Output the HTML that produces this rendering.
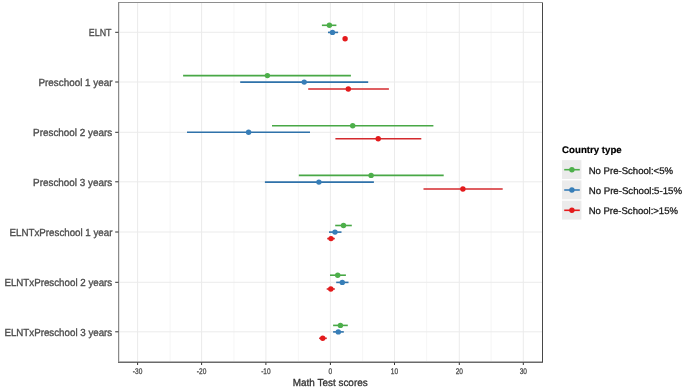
<!DOCTYPE html>
<html><head><meta charset="utf-8"><style>
html,body{margin:0;padding:0;background:#fff;}
body{width:685px;height:390px;overflow:hidden;}
svg{display:block;font-family:"Liberation Sans",sans-serif;text-rendering:geometricPrecision;}
.yl{font-size:10.3px;fill:#4D4D4D;stroke:#4D4D4D;stroke-width:0.35px;}
.xl{font-size:8.2px;fill:#4D4D4D;stroke:#4D4D4D;stroke-width:0.3px;}
.tt{font-size:10.2px;fill:#333333;stroke:#333333;stroke-width:0.3px;}
.lt{font-size:9.6px;font-weight:bold;fill:#000000;stroke:#000000;stroke-width:0.2px;}
.ll{font-size:9.6px;fill:#1a1a1a;stroke:#1a1a1a;stroke-width:0.3px;}
</style></head><body>
<svg width="685" height="390" viewBox="0 0 685 390">
<rect width="685" height="390" fill="#fff"/>
<line x1="170.10" y1="2.5" x2="170.10" y2="362.5" stroke="#F4F4F4" stroke-width="0.8"/>
<line x1="233.90" y1="2.5" x2="233.90" y2="362.5" stroke="#F4F4F4" stroke-width="0.8"/>
<line x1="298.40" y1="2.5" x2="298.40" y2="362.5" stroke="#F4F4F4" stroke-width="0.8"/>
<line x1="362.60" y1="2.5" x2="362.60" y2="362.5" stroke="#F4F4F4" stroke-width="0.8"/>
<line x1="426.60" y1="2.5" x2="426.60" y2="362.5" stroke="#F4F4F4" stroke-width="0.8"/>
<line x1="491.10" y1="2.5" x2="491.10" y2="362.5" stroke="#F4F4F4" stroke-width="0.8"/>
<line x1="137.60" y1="2.5" x2="137.60" y2="362.5" stroke="#EBEBEB" stroke-width="1"/>
<line x1="201.60" y1="2.5" x2="201.60" y2="362.5" stroke="#EBEBEB" stroke-width="1"/>
<line x1="265.90" y1="2.5" x2="265.90" y2="362.5" stroke="#EBEBEB" stroke-width="1"/>
<line x1="330.40" y1="2.5" x2="330.40" y2="362.5" stroke="#EBEBEB" stroke-width="1"/>
<line x1="394.50" y1="2.5" x2="394.50" y2="362.5" stroke="#EBEBEB" stroke-width="1"/>
<line x1="459.30" y1="2.5" x2="459.30" y2="362.5" stroke="#EBEBEB" stroke-width="1"/>
<line x1="523.30" y1="2.5" x2="523.30" y2="362.5" stroke="#EBEBEB" stroke-width="1"/>
<line x1="118.5" y1="32.30" x2="542.5" y2="32.30" stroke="#EBEBEB" stroke-width="1"/>
<line x1="118.5" y1="82.00" x2="542.5" y2="82.00" stroke="#EBEBEB" stroke-width="1"/>
<line x1="118.5" y1="132.30" x2="542.5" y2="132.30" stroke="#EBEBEB" stroke-width="1"/>
<line x1="118.5" y1="181.80" x2="542.5" y2="181.80" stroke="#EBEBEB" stroke-width="1"/>
<line x1="118.5" y1="232.00" x2="542.5" y2="232.00" stroke="#EBEBEB" stroke-width="1"/>
<line x1="118.5" y1="282.30" x2="542.5" y2="282.30" stroke="#EBEBEB" stroke-width="1"/>
<line x1="118.5" y1="331.80" x2="542.5" y2="331.80" stroke="#EBEBEB" stroke-width="1"/>
<line x1="321.9" y1="25.3" x2="336.4" y2="25.3" stroke="#48A846" stroke-width="1.6"/>
<line x1="328.0" y1="32.4" x2="338.1" y2="32.4" stroke="#2F72AA" stroke-width="1.6"/>
<line x1="344.5" y1="38.7" x2="345.5" y2="38.7" stroke="#D42A2E" stroke-width="1.6"/>
<line x1="183.1" y1="75.6" x2="350.9" y2="75.6" stroke="#48A846" stroke-width="1.6"/>
<line x1="240.2" y1="82.1" x2="368.2" y2="82.1" stroke="#2F72AA" stroke-width="1.6"/>
<line x1="308.2" y1="89.0" x2="388.9" y2="89.0" stroke="#D42A2E" stroke-width="1.6"/>
<line x1="272.0" y1="125.8" x2="433.4" y2="125.8" stroke="#48A846" stroke-width="1.6"/>
<line x1="187.0" y1="132.3" x2="310.0" y2="132.3" stroke="#2F72AA" stroke-width="1.6"/>
<line x1="335.4" y1="138.8" x2="421.3" y2="138.8" stroke="#D42A2E" stroke-width="1.6"/>
<line x1="298.8" y1="175.4" x2="443.7" y2="175.4" stroke="#48A846" stroke-width="1.6"/>
<line x1="264.9" y1="182.1" x2="373.9" y2="182.1" stroke="#2F72AA" stroke-width="1.6"/>
<line x1="423.5" y1="189.0" x2="502.7" y2="189.0" stroke="#D42A2E" stroke-width="1.6"/>
<line x1="335.2" y1="225.5" x2="351.8" y2="225.5" stroke="#48A846" stroke-width="1.6"/>
<line x1="329.0" y1="232.1" x2="341.5" y2="232.1" stroke="#2F72AA" stroke-width="1.6"/>
<line x1="327.2" y1="238.6" x2="334.8" y2="238.6" stroke="#D42A2E" stroke-width="1.6"/>
<line x1="330.0" y1="275.2" x2="345.9" y2="275.2" stroke="#48A846" stroke-width="1.6"/>
<line x1="336.2" y1="282.4" x2="348.5" y2="282.4" stroke="#2F72AA" stroke-width="1.6"/>
<line x1="326.7" y1="289.0" x2="334.8" y2="289.0" stroke="#D42A2E" stroke-width="1.6"/>
<line x1="333.1" y1="325.4" x2="347.8" y2="325.4" stroke="#48A846" stroke-width="1.6"/>
<line x1="333.1" y1="331.9" x2="343.8" y2="331.9" stroke="#2F72AA" stroke-width="1.6"/>
<line x1="319.1" y1="338.3" x2="326.8" y2="338.3" stroke="#D42A2E" stroke-width="1.6"/>
<circle cx="329.4" cy="25.3" r="2.7" fill="#4DAF4A"/>
<circle cx="332.5" cy="32.4" r="2.7" fill="#377EB8"/>
<circle cx="345.1" cy="38.7" r="2.7" fill="#E41A1C"/>
<circle cx="267.4" cy="75.6" r="2.7" fill="#4DAF4A"/>
<circle cx="304.2" cy="82.1" r="2.7" fill="#377EB8"/>
<circle cx="348.3" cy="89.0" r="2.7" fill="#E41A1C"/>
<circle cx="352.7" cy="125.8" r="2.7" fill="#4DAF4A"/>
<circle cx="248.6" cy="132.3" r="2.7" fill="#377EB8"/>
<circle cx="378.2" cy="138.8" r="2.7" fill="#E41A1C"/>
<circle cx="371.1" cy="175.4" r="2.7" fill="#4DAF4A"/>
<circle cx="318.9" cy="182.1" r="2.7" fill="#377EB8"/>
<circle cx="462.9" cy="189.0" r="2.7" fill="#E41A1C"/>
<circle cx="343.5" cy="225.5" r="2.7" fill="#4DAF4A"/>
<circle cx="335.0" cy="232.1" r="2.7" fill="#377EB8"/>
<circle cx="331.0" cy="238.6" r="2.7" fill="#E41A1C"/>
<circle cx="337.7" cy="275.2" r="2.7" fill="#4DAF4A"/>
<circle cx="342.3" cy="282.4" r="2.7" fill="#377EB8"/>
<circle cx="330.8" cy="289.0" r="2.7" fill="#E41A1C"/>
<circle cx="340.4" cy="325.4" r="2.7" fill="#4DAF4A"/>
<circle cx="338.3" cy="331.9" r="2.7" fill="#377EB8"/>
<circle cx="322.7" cy="338.3" r="2.7" fill="#E41A1C"/>
<rect x="118" y="2" width="1" height="361" fill="#8a8a8a"/>
<rect x="119" y="3" width="1" height="358" fill="#e4e4e4"/>
<rect x="542" y="2" width="1" height="361" fill="#474747"/>
<rect x="118" y="2" width="425" height="1" fill="#8e8e8e"/>
<rect x="119" y="361" width="423" height="1" fill="#b4b4b4"/>
<rect x="118" y="362" width="425" height="1" fill="#6a6a6a"/>
<line x1="115.2" y1="32.30" x2="118.5" y2="32.30" stroke="#333333" stroke-width="1.0"/>
<line x1="115.2" y1="82.00" x2="118.5" y2="82.00" stroke="#333333" stroke-width="1.0"/>
<line x1="115.2" y1="132.30" x2="118.5" y2="132.30" stroke="#333333" stroke-width="1.0"/>
<line x1="115.2" y1="181.80" x2="118.5" y2="181.80" stroke="#333333" stroke-width="1.0"/>
<line x1="115.2" y1="232.00" x2="118.5" y2="232.00" stroke="#333333" stroke-width="1.0"/>
<line x1="115.2" y1="282.30" x2="118.5" y2="282.30" stroke="#333333" stroke-width="1.0"/>
<line x1="115.2" y1="331.80" x2="118.5" y2="331.80" stroke="#333333" stroke-width="1.0"/>
<line x1="137.60" y1="362.5" x2="137.60" y2="365" stroke="#333333" stroke-width="1.0"/>
<line x1="201.60" y1="362.5" x2="201.60" y2="365" stroke="#333333" stroke-width="1.0"/>
<line x1="265.90" y1="362.5" x2="265.90" y2="365" stroke="#333333" stroke-width="1.0"/>
<line x1="330.40" y1="362.5" x2="330.40" y2="365" stroke="#333333" stroke-width="1.0"/>
<line x1="394.50" y1="362.5" x2="394.50" y2="365" stroke="#333333" stroke-width="1.0"/>
<line x1="459.30" y1="362.5" x2="459.30" y2="365" stroke="#333333" stroke-width="1.0"/>
<line x1="523.30" y1="362.5" x2="523.30" y2="365" stroke="#333333" stroke-width="1.0"/>
<rect x="562" y="160.1" width="19.4" height="18.9" fill="#EBEBEB"/>
<line x1="564.2" y1="169.7" x2="579.8" y2="169.7" stroke="#4DAF4A" stroke-width="1.6"/>
<circle cx="571.9" cy="169.7" r="2.7" fill="#4DAF4A"/>
<rect x="562" y="180.4" width="19.4" height="18.9" fill="#EBEBEB"/>
<line x1="564.2" y1="190.0" x2="579.8" y2="190.0" stroke="#377EB8" stroke-width="1.6"/>
<circle cx="571.9" cy="190.0" r="2.7" fill="#377EB8"/>
<rect x="562" y="200.7" width="19.4" height="18.9" fill="#EBEBEB"/>
<line x1="564.2" y1="210.29999999999998" x2="579.8" y2="210.29999999999998" stroke="#E41A1C" stroke-width="1.6"/>
<circle cx="571.9" cy="210.29999999999998" r="2.7" fill="#E41A1C"/>
<g style="filter:grayscale(1)">
<text x="88.80" y="36.20" textLength="22.69" lengthAdjust="spacingAndGlyphs" class="yl">ELNT</text>
<text x="38.50" y="85.90" textLength="73.95" lengthAdjust="spacingAndGlyphs" class="yl">Preschool 1 year</text>
<text x="33.10" y="136.20" textLength="79.14" lengthAdjust="spacingAndGlyphs" class="yl">Preschool 2 years</text>
<text x="33.10" y="185.70" textLength="79.14" lengthAdjust="spacingAndGlyphs" class="yl">Preschool 3 years</text>
<text x="9.60" y="235.90" textLength="102.86" lengthAdjust="spacingAndGlyphs" class="yl">ELNTxPreschool 1 year</text>
<text x="4.40" y="286.20" textLength="107.84" lengthAdjust="spacingAndGlyphs" class="yl">ELNTxPreschool 2 years</text>
<text x="4.40" y="335.70" textLength="107.84" lengthAdjust="spacingAndGlyphs" class="yl">ELNTxPreschool 3 years</text>
<text x="132.87" y="374.00" textLength="9.47" lengthAdjust="spacingAndGlyphs" class="xl">-30</text>
<text x="196.87" y="374.00" textLength="9.47" lengthAdjust="spacingAndGlyphs" class="xl">-20</text>
<text x="261.17" y="374.00" textLength="9.47" lengthAdjust="spacingAndGlyphs" class="xl">-10</text>
<text x="328.58" y="374.00" textLength="3.64" lengthAdjust="spacingAndGlyphs" class="xl">0</text>
<text x="390.86" y="374.00" textLength="7.29" lengthAdjust="spacingAndGlyphs" class="xl">10</text>
<text x="455.66" y="374.00" textLength="7.29" lengthAdjust="spacingAndGlyphs" class="xl">20</text>
<text x="519.66" y="374.00" textLength="7.29" lengthAdjust="spacingAndGlyphs" class="xl">30</text>
<text x="292.80" y="386.00" textLength="74.89" lengthAdjust="spacingAndGlyphs" class="tt">Math Test scores</text>
<text x="562.10" y="152.80" textLength="59.64" lengthAdjust="spacingAndGlyphs" class="lt">Country type</text>
<text x="588.70" y="173.90" textLength="84.33" lengthAdjust="spacingAndGlyphs" class="ll">No Pre-School:&lt;5%</text>
<text x="588.70" y="193.80" textLength="93.33" lengthAdjust="spacingAndGlyphs" class="ll">No Pre-School:5-15%</text>
<text x="588.70" y="213.70" textLength="89.23" lengthAdjust="spacingAndGlyphs" class="ll">No Pre-School:&gt;15%</text>
</g>
</svg>
</body></html>
